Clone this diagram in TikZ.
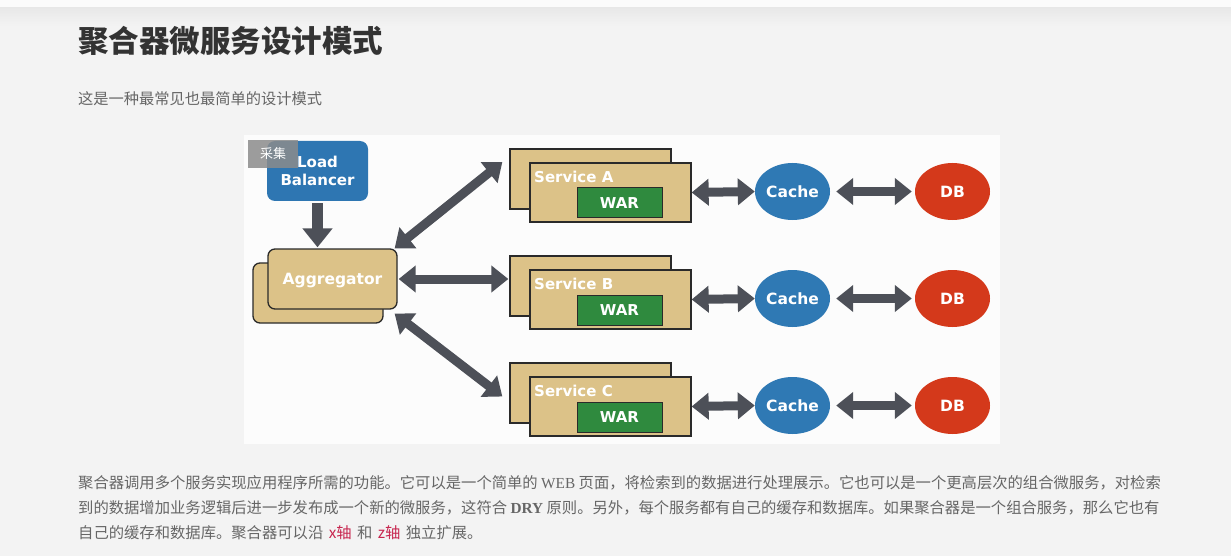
\documentclass[tikz,border=0pt]{standalone}
\usepackage{fontspec}
\setmainfont{DejaVu Sans}
\newfontfamily\cjk{Noto Sans CJK SC}
\newfontfamily\lserif{Liberation Serif}
\newfontfamily\dvs{DejaVu Sans}
\usetikzlibrary{arrows.meta,shapes.geometric}
\definecolor{pagebg}{HTML}{F3F3F3}
\definecolor{panelbg}{HTML}{FCFCFC}
\definecolor{titlegray}{HTML}{333333}
\definecolor{textgray}{HTML}{666666}
\definecolor{codered}{HTML}{C7254E}
\definecolor{lbblue}{HTML}{2E76B2}
\definecolor{cacheblue}{HTML}{2F79B4}
\definecolor{dbred}{HTML}{D4391B}
\definecolor{tanfill}{HTML}{DCC288}
\definecolor{wargreen}{HTML}{2F8A3E}
\definecolor{arrowgray}{HTML}{4D5058}
\definecolor{edgeblack}{HTML}{2A2A2A}
\newcommand\codex[1]{\hspace{2pt}{\color{codered}#1}\hspace{2pt}}
\begin{document}
\begin{tikzpicture}[x=1pt,y=-1pt,
  para/.style={font=\cjk\fontsize{15.32}{18}\selectfont, text=textgray, inner sep=0pt, anchor=base west},
  tanbox/.style={draw=edgeblack, line width=1.3pt, fill=tanfill, rounded corners=7pt, inner sep=0pt},
  svcbox/.style={draw=edgeblack, line width=1.3pt, fill=tanfill, inner sep=0pt},
  warbox/.style={draw=edgeblack, line width=1pt, fill=wargreen, inner sep=0pt, minimum width=85pt, minimum height=30pt, text=white, text depth=0pt, font=\dvs\bfseries\fontsize{15}{17}\selectfont},
  dlabel/.style={text=white, font=\dvs\bfseries\fontsize{15}{17}\selectfont, inner sep=0pt},
  oval/.style={ellipse, inner sep=0pt, minimum width=75pt, minimum height=57pt, text=white, text depth=0pt, font=\dvs\bfseries\fontsize{15.5}{17}\selectfont},
  biarrow/.style={draw=arrowgray, line width=9pt, {Triangle[width=26pt,length=17pt]}-{Triangle[width=26pt,length=17pt]}},
  downarrow/.style={draw=arrowgray, line width=11pt, -{Triangle[width=29pt,length=19pt]}}
]
\useasboundingbox (0,0) rectangle (1231,556);
% page
\fill[pagebg] (0,0) rectangle (1231,556);
\fill[white!97!gray] (0,0) rectangle (1231,8);
\shade[top color=black!9, bottom color=pagebg] (0,8) rectangle (1231,26);

% title and intro
\node[anchor=west, font=\cjk\bfseries\fontsize{30.5}{34}\selectfont, text=titlegray, inner sep=0pt] (title) at (78,41) {聚合器微服务设计模式};
\node[anchor=west, font=\cjk\fontsize{15.25}{18}\selectfont, text=textgray, inner sep=0pt] (intro) at (78,99) {这是一种最常见也最简单的设计模式};

% diagram panel
\node[fill=panelbg, inner sep=0pt, minimum width=756pt, minimum height=309pt, anchor=north west] (panel) at (244,135) {};

% load balancer
\node[fill=lbblue, rounded corners=8pt, minimum width=101pt, minimum height=60pt, align=center, text=white, font=\dvs\bfseries\fontsize{15}{17.5}\selectfont, inner sep=0pt] (lb) at (317.5,171) {Load\\Balancer};
\node[fill=black!45, opacity=0.85, text opacity=1, minimum width=50pt, minimum height=28pt, inner sep=0pt, text=white, font=\cjk\fontsize{13}{15}\selectfont] (caiji) at (273,154) {采集};

% aggregator
\node[tanbox, minimum width=130pt, minimum height=60pt] (aggb) at (318,293) {};
\node[tanbox, minimum width=129pt, minimum height=60pt, text=white, text depth=0pt, font=\dvs\bfseries\fontsize{15.5}{17}\selectfont] (aggf) at (332.5,279) {Aggregator};

% services
\foreach \r/\dy in {A/0,B/107,C/214}{
  \node[svcbox, minimum width=161pt, minimum height=60pt] (s\r b) at (590.5,179+\dy) {};
  \node[svcbox, minimum width=161pt, minimum height=59pt] (s\r f) at (610.5,192.5+\dy) {};
  \node[dlabel, anchor=west] (s\r l) at (534,176.5+\dy) {Service \r};
  \node[warbox] (s\r w) at (619.5,203+\dy) {WAR};
  \node[oval, fill=cacheblue] (c\r) at (792.5,191.5+\dy) {Cache};
  \node[oval, fill=dbred] (d\r) at (952.5,191.5+\dy) {DB};
  \draw[biarrow] (s\r f.east) -- (c\r.west);
  \draw[biarrow, shorten <=6pt, shorten >=3pt] (c\r.east) -- (d\r.west);
}

% connectors from aggregator
\draw[downarrow, shorten <=2pt, shorten >=1pt] (lb.south) -- (lb.south |- aggf.north);
\draw[biarrow] ([shift={(-3,0)}]aggf.north east) -- ([shift={(-7,-17)}]sAb.west);
\draw[biarrow] ([shift={(1,0)}]aggf.east) -- ([shift={(-1,-7)}]sBb.west);
\draw[biarrow] ([shift={(-3,4)}]aggf.south east) -- ([shift={(-7,3.5)}]sCb.west);

% paragraph
\node[para] (p1) at (78,488) {聚合器调用多个服务实现应用程序所需的功能。它可以是一个简单的 {\lserif WEB} 页面，将检索到的数据进行处理展示。它也可以是一个更高层次的组合微服务，对检索};
\node[para] (p2) at (78,513) {到的数据增加业务逻辑后进一步发布成一个新的微服务，这符合 {\lserif\bfseries DRY} 原则。另外，每个服务都有自己的缓存和数据库。如果聚合器是一个组合服务，那么它也有};
\node[para] (p3) at (78,538) {自己的缓存和数据库。聚合器可以沿 \codex{x轴} 和 \codex{z轴} 独立扩展。};
\end{tikzpicture}
\end{document}
